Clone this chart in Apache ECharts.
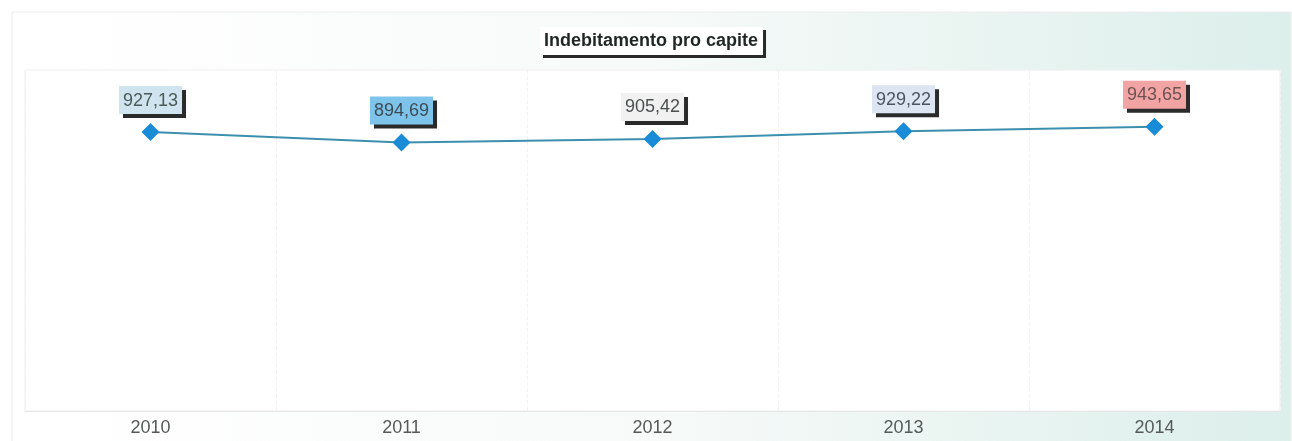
<!DOCTYPE html>
<html>
<head>
<meta charset="utf-8">
<script src="https://cdn.jsdelivr.net/npm/echarts@6/dist/echarts.min.js"></script>
<style>
html,body{margin:0;padding:0;background:#ffffff;}
#chart{width:1292px;height:441px;}
</style>
</head>
<body>
<div id="chart"></div>
<script>
var categories = ['2010', '2011', '2012', '2013', '2014'];
var values = [927.13, 894.69, 905.42, 929.22, 943.65];
var labelTexts = ['927,13', '894,69', '905,42', '929,22', '943,65'];
var labelBgColors = ['#cfe4ef', '#7ec4ea', '#f1f1f1', '#dde5f3', '#f2a4a4'];
var labelTextColors = ['#4a5b57', '#3c4c56', '#4a4f4f', '#4a5560', '#6e5252'];

var chart = echarts.init(document.getElementById('chart'));

var seriesData = values.map(function (v, i) {
  return {
    value: v,
    label: {
      backgroundColor: labelBgColors[i],
      color: labelTextColors[i],
      formatter: labelTexts[i]
    }
  };
});

chart.setOption({
  backgroundColor: 'transparent',
  animation: false,
  graphic: [{
    type: 'rect',
    z: -10,
    silent: true,
    shape: { x: 12, y: 12, width: 1279, height: 440 },
    style: {
      fill: new echarts.graphic.LinearGradient(0, 0, 1, 0, [
        { offset: 0, color: '#ffffff' },
        { offset: 0.5, color: '#f7faf9' },
        { offset: 1, color: '#dcefea' }
      ]),
      stroke: '#ececec',
      lineWidth: 1
    }
  }],
  title: {
    text: 'Indebitamento pro capite',
    left: 540,
    top: 27,
    padding: [5, 5, 5, 4],
    backgroundColor: '#ffffff',
    shadowColor: '#2a2a2a',
    shadowBlur: 0,
    shadowOffsetX: 3,
    shadowOffsetY: 3,
    textStyle: {
      fontFamily: 'Liberation Sans, Arial, sans-serif',
      fontSize: 18,
      fontWeight: 'bold',
      color: '#1f2624',
      lineHeight: 18
    }
  },
  grid: {
    left: 25,
    right: 12,
    top: 70,
    bottom: 30,
    show: true,
    backgroundColor: '#ffffff',
    borderColor: '#eeeeee',
    borderWidth: 1
  },
  xAxis: {
    type: 'category',
    data: categories,
    boundaryGap: true,
    axisLine: { show: true, lineStyle: { color: '#e6e6e6' } },
    axisTick: { show: false },
    axisLabel: {
      margin: 8,
      fontFamily: 'Liberation Sans, Arial, sans-serif',
      fontSize: 18,
      color: '#555a58'
    },
    splitLine: { show: true, lineStyle: { color: '#f3f3f3', type: 'dashed' } }
  },
  yAxis: {
    type: 'value',
    min: 60,
    max: 1120,
    show: false,
    splitLine: { show: false }
  },
  series: [{
    type: 'line',
    data: seriesData,
    symbol: 'diamond',
    symbolSize: 18,
    itemStyle: { color: '#1a8bd6' },
    lineStyle: { color: '#3d8fae', width: 2 },
    label: {
      show: true,
      position: 'top',
      distance: 9,
      fontFamily: 'Liberation Sans, Arial, sans-serif',
      fontSize: 18,
      lineHeight: 19,
      padding: [5, 4, 4, 4],
      shadowColor: '#2a2a2a',
      shadowBlur: 0,
      shadowOffsetX: 4,
      shadowOffsetY: 4
    }
  }]
});
</script>
</body>
</html>
